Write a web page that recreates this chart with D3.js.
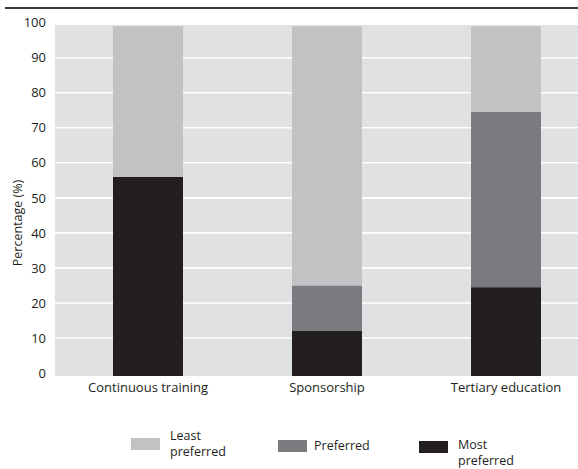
<!DOCTYPE html>
<html>
<head>
<meta charset="utf-8">
<script src="https://cdn.jsdelivr.net/npm/d3@7"></script>
<style>
  html, body { margin: 0; padding: 0; background: #fff; }
  svg { display: block; font-family: "Open Sans", "Noto Sans", sans-serif; }
</style>
</head>
<body>
<svg id="chart" width="578" height="469"></svg>
<script>
// Training preference shares by category (percent)
const categories = ["Continuous training", "Sponsorship", "Tertiary education"];
const seriesNames = ["Most preferred", "Preferred", "Least preferred"];
const mostPreferred = [56, 12, 24.5];
const preferred = [0, 13, 50];
const leastPreferred = [43, 74, 24.5];
const yTicks = [0, 10, 20, 30, 40, 50, 60, 70, 80, 90, 100];
const legendLabels = [["Least", "preferred"], ["Preferred"], ["Most", "preferred"]];

const colors = {
  "Most preferred": "#231f20",
  "Preferred": "#7a7b7e",
  "Least preferred": "#c1c2c3"
};

const rows = categories.map((c, i) => ({
  category: c,
  "Most preferred": mostPreferred[i],
  "Preferred": preferred[i],
  "Least preferred": leastPreferred[i]
}));

const svg = d3.select("#chart");
const ink = "#231f20";

const plot = { left: 55, right: 578, top: 25, bottom: 376 };

const x = d3.scaleBand()
  .domain(categories)
  .range([plot.left, 599])
  .paddingInner(0.609)
  .paddingOuter(0.324);

const y = d3.scaleLinear().domain([0, 100]).range([373, 22.7]);

// top rule
svg.append("rect")
  .attr("x", 5).attr("y", 7)
  .attr("width", 578 - 5).attr("height", 2)
  .attr("fill", "#3a3a3a");

// plot background
svg.append("rect")
  .attr("x", plot.left).attr("y", plot.top)
  .attr("width", plot.right - plot.left)
  .attr("height", plot.bottom - plot.top)
  .attr("fill", "#e0e1e2");

// horizontal gridlines
svg.append("g")
  .selectAll("line")
  .data(yTicks.filter(t => t > 0 && t < 100))
  .join("line")
  .attr("x1", plot.left).attr("x2", plot.right)
  .attr("y1", d => y(d)).attr("y2", d => y(d))
  .attr("stroke", "#ffffff")
  .attr("stroke-width", 1.6);

// stacked bars
const stack = d3.stack().keys(seriesNames);
const layers = stack(rows);
const baseDrop = 3; // bars sit slightly below the zero line

svg.append("g")
  .selectAll("g")
  .data(layers)
  .join("g")
  .attr("fill", d => colors[d.key])
  .selectAll("rect")
  .data(d => d.filter(s => s[1] - s[0] > 0))
  .join("rect")
  .attr("x", d => x(d.data.category))
  .attr("width", x.bandwidth())
  .attr("y", d => y(d[1]))
  .attr("height", d => y(d[0]) - y(d[1]) + (d[0] === 0 ? baseDrop : 0));

// y axis labels
const yAxis = d3.axisLeft(y).tickValues(yTicks).tickSize(0).tickPadding(0);
svg.append("g")
  .attr("transform", "translate(46,0)")
  .call(yAxis)
  .call(g => g.select(".domain").remove())
  .call(g => g.selectAll("text")
    .attr("font-family", "Open Sans, Noto Sans, sans-serif")
    .attr("font-size", 13)
    .attr("fill", ink));

// x axis labels
const xAxis = d3.axisBottom(x).tickSize(0).tickPadding(0);
svg.append("g")
  .attr("transform", "translate(0,383)")
  .call(xAxis)
  .call(g => g.select(".domain").remove())
  .call(g => g.selectAll("text")
    .attr("font-family", "Open Sans, Noto Sans, sans-serif")
    .attr("font-size", 13)
    .attr("fill", ink));

// y axis title
svg.append("text")
  .attr("transform", "translate(22,223) rotate(-90)")
  .attr("text-anchor", "middle")
  .attr("font-size", 12.5)
  .attr("fill", ink)
  .text("Percentage (%)");

// legend
const legendItems = [
  { key: "Least preferred", label: legendLabels[0], sx: 131, sy: 438, tx: 170, ty: 440, lh: 16 },
  { key: "Preferred", label: legendLabels[1], sx: 278, sy: 440, tx: 314, ty: 450, lh: 0 },
  { key: "Most preferred", label: legendLabels[2], sx: 419, sy: 441, tx: 458, ty: 449, lh: 16 }
];

const legend = svg.append("g");
legendItems.forEach(item => {
  legend.append("rect")
    .attr("x", item.sx).attr("y", item.sy)
    .attr("width", 29).attr("height", 12)
    .attr("fill", colors[item.key]);
  item.label.forEach((line, i) => {
    legend.append("text")
      .attr("x", item.tx)
      .attr("y", item.ty + i * item.lh)
      .attr("font-size", 12.5)
      .attr("fill", ink)
      .text(line);
  });
});
</script>
</body>
</html>
